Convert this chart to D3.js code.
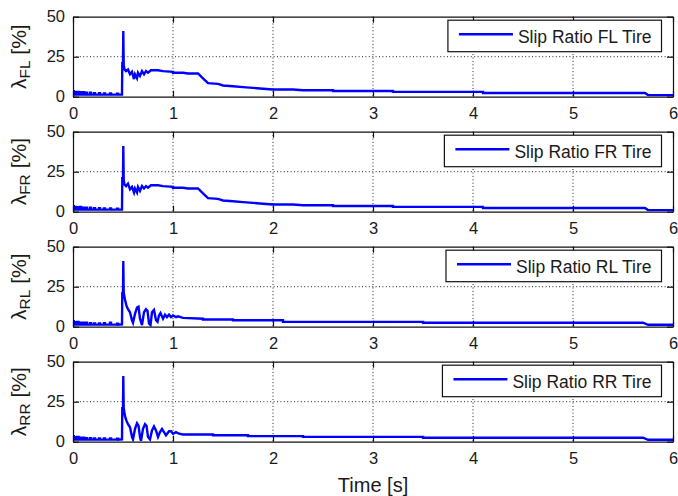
<!DOCTYPE html>
<html>
<head>
<meta charset="utf-8">
<script src="https://cdn.jsdelivr.net/npm/d3@7"></script>
<style>
  body { margin: 0; background: #fff; }
  text { font-family: "Liberation Sans", Arial, Helvetica, sans-serif; fill: #1a1a1a; }
</style>
</head>
<body>
<svg id="chart" width="678" height="496"></svg>
<script>
// Axis ticks
const timeTicks = [0, 1, 2, 3, 4, 5, 6];
const slipTicks = [0, 25, 50];

// Tire names and legend entries
const tireNames = ["FL", "FR", "RL", "RR"];
const legendLabels = ["Slip Ratio FL Tire", "Slip Ratio FR Tire", "Slip Ratio RL Tire", "Slip Ratio RR Tire"];

// Low-slip chatter before the braking event (shared sample times)
const timePre = [0, 0.008, 0.008, 0.02, 0.02, 0.028, 0.028, 0.045, 0.045, 0.055, 0.055, 0.07, 0.07, 0.08, 0.08, 0.1, 0.1, 0.11, 0.11, 0.13, 0.13, 0.14, 0.14,
  0.17, 0.17, 0.18, 0.18, 0.21, 0.21, 0.22, 0.22, 0.26, 0.26, 0.27, 0.27, 0.31, 0.31, 0.32, 0.32, 0.37, 0.37, 0.38, 0.38, 0.44, 0.44, 0.45, 0.45, 0.49];

// Front left tire slip ratio [%] over time [s]
const preFL = [3.5, 3.5, 1.3, 1.3, 3, 3, 1.3, 1.3, 3, 3, 1.3, 1.3, 2.8, 2.8, 1.3, 1.3, 2.8, 2.8, 1.3, 1.3, 2.5, 2.5, 1.3,
  1.3, 2.5, 2.5, 1.3, 1.3, 2.2, 2.2, 1.3, 1.3, 2.2, 2.2, 1.3, 1.3, 2, 2, 1.3, 1.3, 2, 2, 1.3, 1.3, 1.8, 1.8, 1.3, 1.3];
const timeFL = timePre.concat([0.493, 0.5, 0.503, 0.507, 0.515, 0.53, 0.55, 0.57, 0.59, 0.61, 0.62, 0.64, 0.65, 0.67, 0.69, 0.71, 0.73, 0.75, 0.78, 0.85, 0.9, 1.0, 1.0, 1.1, 1.15, 1.25,
  1.3, 1.35, 1.45, 1.5, 1.6, 1.7, 1.8, 1.9, 2.0, 2.2, 2.3, 2.6, 2.6, 3.2, 3.2, 4.1, 4.1, 5.72, 5.75, 6]);
const slipFL = preFL.concat([21, 21, 41, 20, 17, 16, 17, 14, 15.5, 11, 14, 11.5, 15, 13, 16, 14, 16, 15, 16.5, 16.5, 16, 15.5, 15, 15, 14.5, 14.5,
  11.5, 8.5, 8, 7, 6.5, 6, 5.5, 5, 4.5, 4.5, 4, 4, 3.6, 3.6, 3, 3, 2.3, 2.3, 1, 1]);

// Front right tire slip ratio [%] over time [s]
const preFR = [3.5, 3.5, 1.3, 1.3, 3, 3, 1.3, 1.3, 2.8, 2.8, 1.3, 1.3, 3, 3, 1.3, 1.3, 2.5, 2.5, 1.3, 1.3, 2.5, 2.5, 1.3,
  1.3, 2.5, 2.5, 1.3, 1.3, 2.2, 2.2, 1.3, 1.3, 2.2, 2.2, 1.3, 1.3, 2, 2, 1.3, 1.3, 2, 2, 1.3, 1.3, 1.8, 1.8, 1.3, 1.3];
const timeFR = timePre.concat([0.493, 0.5, 0.503, 0.507, 0.515, 0.53, 0.55, 0.57, 0.59, 0.61, 0.62, 0.64, 0.65, 0.67, 0.69, 0.71, 0.73, 0.75, 0.78, 0.85, 0.9, 1.0, 1.0, 1.1, 1.15, 1.25,
  1.3, 1.35, 1.45, 1.5, 1.6, 1.7, 1.8, 1.9, 2.0, 2.2, 2.3, 2.6, 2.6, 3.2, 3.2, 4.1, 4.1, 5.72, 5.75, 6]);
const slipFR = preFR.concat([21, 21, 41, 20, 17, 16, 17.5, 14, 15.5, 12, 14.5, 12, 15.5, 13, 16, 14.5, 16, 15, 16.5, 16.5, 16, 15.5, 15, 15, 14.5, 14.5,
  11.5, 8.5, 8, 7, 6.5, 6, 5.5, 5, 4.5, 4.5, 4, 4, 3.6, 3.6, 3, 3, 2.3, 2.3, 1, 1]);

// Rear left tire slip ratio [%] over time [s]
const preRL = [3.5, 3.5, 1.3, 1.3, 2.8, 2.8, 1.3, 1.3, 3, 3, 1.3, 1.3, 2.5, 2.5, 1.3, 1.3, 2.5, 2.5, 1.3, 1.3, 2.5, 2.5, 1.3,
  1.3, 2.2, 2.2, 1.3, 1.3, 2, 2, 1.3, 1.3, 2, 2, 1.3, 1.3, 2.2, 2.2, 1.3, 1.3, 2.5, 2.5, 1.3, 1.3, 1.8, 1.8, 1.3, 1.5];
const timeRL = timePre.concat([0.493, 0.5, 0.503, 0.507, 0.52, 0.535, 0.55, 0.57, 0.59, 0.6, 0.62, 0.64, 0.655, 0.67, 0.69, 0.71, 0.73, 0.745, 0.76, 0.775, 0.79, 0.81, 0.83, 0.845,
  0.86, 0.875, 0.9, 0.92, 0.94, 0.96, 0.98, 1.0, 1.03, 1.05, 1.1, 1.3, 1.3, 1.6, 1.6, 2.1, 2.1, 3.5, 3.5, 5.7, 5.75, 6]);
const slipRL = preRL.concat([21, 21, 41, 21, 17, 13, 11, 9, 4, 2.5, 8, 12, 12.5, 5, 1, 9, 11, 10, 2, 1, 9, 10.5, 4, 3,
  7, 8.5, 5, 7.5, 6, 7.5, 6, 7, 6, 6.5, 5.5, 5, 4.5, 4.5, 4, 4, 3, 3, 2.5, 2.5, 1.2, 1.2]);

// Rear right tire slip ratio [%] over time [s]
const preRR = [3.5, 3.5, 1.3, 1.3, 2.8, 2.8, 1.3, 1.3, 3, 3, 1.3, 1.3, 2.5, 2.5, 1.3, 1.3, 2.5, 2.5, 1.3, 1.3, 2.2, 2.2, 1.3,
  1.3, 2.2, 2.2, 1.3, 1.3, 2, 2, 1.3, 1.3, 2, 2, 1.3, 1.3, 2, 2, 1.3, 1.3, 2, 2, 1.3, 1.3, 1.8, 1.8, 1.3, 1.5];
const timeRR = timePre.concat([0.493, 0.5, 0.503, 0.507, 0.52, 0.535, 0.55, 0.57, 0.59, 0.6, 0.62, 0.64, 0.655, 0.67, 0.68, 0.7, 0.72, 0.735, 0.75, 0.77, 0.79, 0.81, 0.83, 0.85,
  0.87, 0.89, 0.91, 0.93, 0.96, 0.98, 1.0, 1.03, 1.06, 1.1, 1.4, 1.4, 1.75, 1.75, 2.3, 2.3, 3.5, 3.5, 5.7, 5.75, 6]);
const slipRR = preRR.concat([21, 21, 41, 21, 16, 13, 11, 9, 3, 1.5, 8, 11.5, 10, 3, 0.5, 8, 11, 10, 3, 1.5, 7, 9.5, 7, 3,
  6, 8, 6, 4, 6.5, 6.5, 5, 6, 5, 4.5, 4.5, 4, 4, 3.5, 3.5, 3, 3, 2.5, 2.5, 1.2, 1.2]);

const timeSeries = [timeFL, timeFR, timeRL, timeRR];
const slipSeries = [slipFL, slipFR, slipRL, slipRR];

// Layout of the four stacked axes
const plotLeft = 73, plotWidth = 600;
const firstTop = 16.7, panelStep = 115, plotHeight = 80;
const tickLen = 6;

const svg = d3.select("#chart");
const x = d3.scaleLinear().domain([0, 6]).range([plotLeft, plotLeft + plotWidth]);

tireNames.forEach((name, i) => {
  const top = firstTop + i * panelStep;
  const y = d3.scaleLinear().domain([0, 50]).range([top + plotHeight, top]);
  const g = svg.append("g");

  // dotted grid
  g.selectAll(".gx").data(timeTicks.slice(1, -1)).join("line")
    .attr("x1", d => x(d)).attr("x2", d => x(d))
    .attr("y1", top).attr("y2", top + plotHeight)
    .attr("stroke", "#222").attr("stroke-width", 1).attr("stroke-dasharray", "1,2.4");
  g.selectAll(".gy").data(slipTicks.slice(1, -1)).join("line")
    .attr("x1", plotLeft).attr("x2", plotLeft + plotWidth)
    .attr("y1", d => y(d)).attr("y2", d => y(d))
    .attr("stroke", "#222").attr("stroke-width", 1).attr("stroke-dasharray", "1,2.4");

  // data line, clipped to the axes box
  const clipId = "clip" + name;
  svg.append("clipPath").attr("id", clipId).append("rect")
    .attr("x", plotLeft).attr("y", top).attr("width", plotWidth).attr("height", plotHeight);
  const pts = timeSeries[i].map((t, k) => [t, slipSeries[i][k]]);
  g.append("path").datum(pts)
    .attr("clip-path", `url(#${clipId})`)
    .attr("fill", "none").attr("stroke", "#0000ff").attr("stroke-width", 2.4)
    .attr("stroke-linejoin", "miter")
    .attr("d", d3.line().x(d => x(d[0])).y(d => y(d[1])));

  // axes: bottom/left with labels, top/right ticks only, all ticks inward
  const bottom = g.append("g").attr("transform", `translate(0,${top + plotHeight})`)
    .call(d3.axisBottom(x).tickValues(timeTicks).tickFormat(d3.format("d")).tickSizeInner(-tickLen).tickSizeOuter(0).tickPadding(11));
  const left = g.append("g").attr("transform", `translate(${plotLeft},0)`)
    .call(d3.axisLeft(y).tickValues(slipTicks).tickFormat(d3.format("d")).tickSizeInner(-tickLen).tickSizeOuter(0).tickPadding(8));
  const topAx = g.append("g").attr("transform", `translate(0,${top})`)
    .call(d3.axisTop(x).tickValues(timeTicks).tickFormat("").tickSizeInner(-tickLen).tickSizeOuter(0));
  const rightAx = g.append("g").attr("transform", `translate(${plotLeft + plotWidth},0)`)
    .call(d3.axisRight(y).tickValues(slipTicks).tickFormat("").tickSizeInner(-tickLen).tickSizeOuter(0));
  [bottom, left, topAx, rightAx].forEach(a => {
    a.select(".domain").attr("stroke", "#111").attr("stroke-width", 1.2);
    a.selectAll(".tick line").attr("stroke", "#111").attr("stroke-width", 1.2);
    a.selectAll(".tick text").attr("font-size", 16.5).attr("fill", "#1a1a1a")
      .attr("font-family", "'Liberation Sans', Arial, sans-serif");
  });

  // y label: lambda with tire subscript
  const yl = g.append("text")
    .attr("transform", `translate(26,${top + plotHeight / 2}) rotate(-90)`)
    .attr("text-anchor", "middle").attr("font-size", 21);
  yl.append("tspan").text("λ");
  yl.append("tspan").text(name).attr("font-size", 15.5).attr("dy", 4);
  yl.append("tspan").text(" [%]").attr("dy", -4);

  // legend box
  const lg = g.append("g");
  const lt = lg.append("text").attr("font-size", 17.5).text(legendLabels[i]);
  const tw = lt.node().getComputedTextLength();
  const boxRight = plotLeft + plotWidth - 11.5;
  const textX = boxRight - 10 - tw;
  const boxLeft = textX - 70;
  const boxTop = top + 3.5, boxH = 31.5;
  lg.insert("rect", "text")
    .attr("x", boxLeft).attr("y", boxTop).attr("width", boxRight - boxLeft).attr("height", boxH)
    .attr("fill", "#fff").attr("stroke", "#111").attr("stroke-width", 1.2);
  lt.attr("x", textX).attr("y", boxTop + 22.5);
  lg.append("line")
    .attr("x1", boxLeft + 11).attr("x2", boxLeft + 65)
    .attr("y1", boxTop + 14).attr("y2", boxTop + 14)
    .attr("stroke", "#0000ff").attr("stroke-width", 2.4);
});

// shared x label
svg.append("text")
  .attr("x", plotLeft + plotWidth / 2).attr("y", 492)
  .attr("text-anchor", "middle").attr("font-size", 20)
  .text("Time [s]");
</script>
</body>
</html>
